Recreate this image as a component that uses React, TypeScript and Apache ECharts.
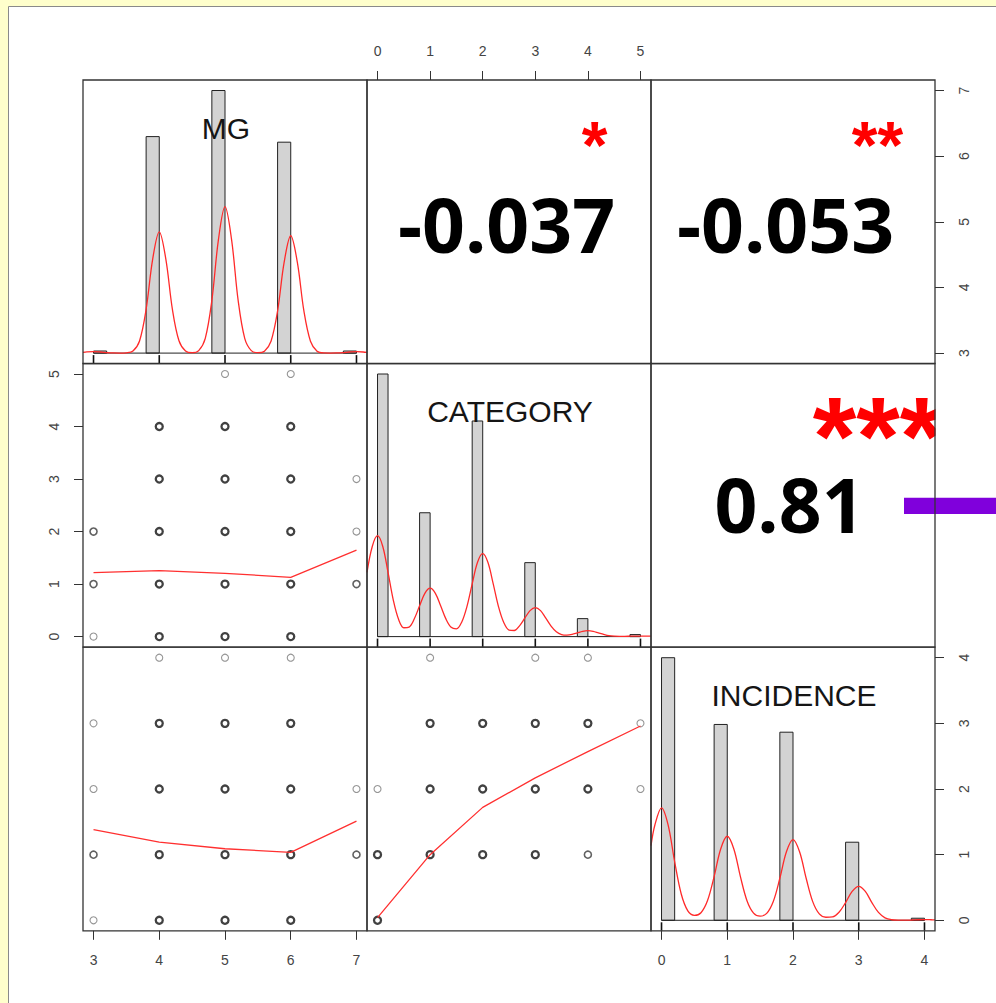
import React, { useEffect, useRef } from "react";
import * as echarts from "echarts";

// ---------- data ----------
const variableNames = ["MG", "CATEGORY", "INCIDENCE"];
const axisMin = [2.84, -0.2, -0.16];
const axisMax = [7.16, 5.2, 4.16];
const mgTicks = [3, 4, 5, 6, 7];
const categoryTicks = [0, 1, 2, 3, 4, 5];
const incidenceTicks = [0, 1, 2, 3, 4];
const tickValues = [mgTicks, categoryTicks, incidenceTicks];

// histogram bins: [from, to, density]
const mgBins = [[3.0, 3.2, 0.015], [3.8, 4.0, 1.55], [4.8, 5.0, 1.88], [5.8, 6.0, 1.51], [6.8, 7.0, 0.015]];
const categoryBins = [[0, 0.2, 1.9], [0.8, 1.0, 0.896], [1.8, 2.0, 1.56], [2.8, 3.0, 0.535], [3.8, 4.0, 0.13], [4.8, 5.0, 0.0145]];
const incidenceBins = [[0, 0.2, 1.9], [0.8, 1.0, 1.417], [1.8, 2.0, 1.361], [2.8, 3.0, 0.565], [3.8, 4.0, 0.015]];
const histRange = [[3, 7], [0, 5], [0, 4]];
const densityTop = [1.88, 1.9, 1.9];

const mgDensity = [[2.84,0.005],[2.9,0.009],[3.0,0.010],[3.1,0.008],[3.2,0.004],[3.3,0.001],[3.4,0.000],[3.5,0.002],[3.6,0.015],[3.7,0.087],[3.8,0.313],[3.9,0.673],[4.0,0.868],[4.1,0.673],[4.2,0.313],[4.3,0.088],[4.4,0.015],[4.5,0.003],[4.6,0.018],[4.7,0.106],[4.8,0.377],[4.9,0.812],[5.0,1.048],[5.1,0.812],[5.2,0.377],[5.3,0.106],[5.4,0.018],[5.5,0.003],[5.6,0.014],[5.7,0.085],[5.8,0.302],[5.9,0.651],[6.0,0.840],[6.1,0.651],[6.2,0.302],[6.3,0.085],[6.4,0.014],[6.5,0.001],[6.6,0.000],[6.7,0.001],[6.8,0.004],[6.9,0.008],[7.0,0.010],[7.1,0.008],[7.16,0.005]];
const categoryDensity = [[-0.2,0.464],[-0.1,0.652],[0,0.730],[0.1,0.652],[0.2,0.464],[0.3,0.264],[0.4,0.125],[0.5,0.064],[0.6,0.069],[0.7,0.129],[0.8,0.223],[0.9,0.313],[1.0,0.350],[1.1,0.313],[1.2,0.223],[1.3,0.128],[1.4,0.067],[1.5,0.056],[1.6,0.104],[1.7,0.217],[1.8,0.381],[1.9,0.536],[2.0,0.600],[2.1,0.536],[2.2,0.381],[2.3,0.217],[2.4,0.102],[2.5,0.047],[2.6,0.044],[2.7,0.078],[2.8,0.133],[2.9,0.188],[3.0,0.210],[3.1,0.188],[3.2,0.133],[3.3,0.076],[3.4,0.035],[3.5,0.015],[3.6,0.011],[3.7,0.016],[3.8,0.027],[3.9,0.038],[4.0,0.043],[4.1,0.038],[4.2,0.027],[4.3,0.016],[4.4,0.007],[4.5,0.003],[4.6,0.002],[4.7,0.002],[4.8,0.003],[4.9,0.004],[5.0,0.004],[5.1,0.004],[5.2,0.003]];
const incidenceDensity = [[-0.16,0.540],[-0.1,0.691],[0,0.814],[0.1,0.691],[0.2,0.423],[0.3,0.190],[0.4,0.068],[0.5,0.036],[0.6,0.055],[0.7,0.143],[0.8,0.316],[0.9,0.516],[1.0,0.608],[1.1,0.516],[1.2,0.316],[1.3,0.142],[1.4,0.052],[1.5,0.030],[1.6,0.050],[1.7,0.136],[1.8,0.304],[1.9,0.496],[2.0,0.584],[2.1,0.496],[2.2,0.304],[2.3,0.135],[2.4,0.046],[2.5,0.022],[2.6,0.024],[2.7,0.058],[2.8,0.128],[2.9,0.209],[3.0,0.246],[3.1,0.209],[3.2,0.128],[3.3,0.057],[3.4,0.018],[3.5,0.004],[3.6,0.001],[3.7,0.001],[3.8,0.002],[3.9,0.004],[4.0,0.005],[4.1,0.004],[4.16,0.003]];

const mgRug = [3, 4, 5, 6, 7];
const categoryRug = [0, 1, 2, 3, 4, 5];
const incidenceRug = [0, 1, 2, 3, 4];

// scatter points: [x, y, overplot level 1..3]
const mgCategoryPoints = [[5,5,1],[6,5,1],[4,4,3],[5,4,3],[6,4,3],[4,3,3],[5,3,3],[6,3,3],[7,3,1],[3,2,2],[4,2,3],[5,2,3],[6,2,3],[7,2,1],[3,1,2],[4,1,3],[5,1,3],[6,1,3],[7,1,2],[3,0,1],[4,0,3],[5,0,3],[6,0,3]];
const mgIncidencePoints = [[4,4,1],[5,4,1],[6,4,1],[3,3,1],[4,3,3],[5,3,3],[6,3,3],[3,2,1],[4,2,3],[5,2,3],[6,2,3],[7,2,1],[3,1,2],[4,1,3],[5,1,3],[6,1,3],[7,1,2],[3,0,1],[4,0,3],[5,0,3],[6,0,3]];
const categoryIncidencePoints = [[1,4,1],[3,4,1],[4,4,1],[1,3,3],[2,3,3],[3,3,3],[4,3,3],[5,3,1],[0,2,1],[1,2,3],[2,2,3],[3,2,3],[4,2,3],[5,2,1],[0,1,3],[1,1,3],[2,1,3],[3,1,3],[4,1,2],[0,0,3]];

const mgCategoryLowess = [[3,1.217],[4,1.255],[5,1.205],[6,1.129],[7,1.648]];
const mgIncidenceLowess = [[3,1.38],[4,1.19],[5,1.09],[6,1.035],[7,1.51]];
const categoryIncidenceLowess = [[0,0.04],[1,1.0],[2,1.72],[3,2.17],[4,2.57],[5,2.96]];

const correlationTexts = ["-0.037", "-0.053", "0.81"];
const significanceStars = ["*", "**", "***"];

// ---------- layout ----------
const PANEL_LEFT = [83, 367, 651];
const PANEL_TOP = [80, 363.5, 647.2];
const PANEL_W = 284;
const PANEL_H = 283.6;

function buildOption() {
  const grids: any[] = [];
  const xAxes: any[] = [];
  const yAxes: any[] = [];
  const series: any[] = [];

  const axisStyle = (v: number, show: boolean, position: string, rotate: number) => ({
    type: "value",
    min: axisMin[v],
    max: axisMax[v],
    show,
    position,
    axisLine: { show: false, onZero: false },
    splitLine: { show: false },
    axisTick: {
      show: true,
      inside: false,
      length: 9,
      lineStyle: { color: "#333", width: 1 },
      customValues: tickValues[v],
    },
    axisLabel: {
      show: true,
      customValues: tickValues[v],
      color: "#444",
      fontSize: 14,
      fontFamily: "Liberation Sans",
      margin: 22,
      rotate,
    },
  });

  for (let r = 0; r < 3; r++) {
    for (let c = 0; c < 3; c++) {
      const g = r * 3 + c;
      grids.push({ left: PANEL_LEFT[c], top: PANEL_TOP[r], width: PANEL_W, height: PANEL_H, show: false });
      let showX = false;
      let xPos = "bottom";
      if (g === 1) { showX = true; xPos = "top"; }
      if (g === 6 || g === 8) { showX = true; xPos = "bottom"; }
      xAxes.push({ ...axisStyle(c, showX, xPos, 0), gridIndex: g });
      if (r === c) {
        yAxes.push({
          type: "value", gridIndex: g, show: false,
          min: -0.04 * densityTop[r], max: 1.04 * densityTop[r],
          axisLine: { onZero: false },
          splitLine: { show: false },
        });
      } else {
        let showY = false;
        let yPos = "left";
        if (g === 2) { showY = true; yPos = "right"; }
        if (g === 3) { showY = true; yPos = "left"; }
        yAxes.push({ ...axisStyle(r, showY, yPos, 90), gridIndex: g });
      }
    }
  }
  // extra right axis on row 3 (INCIDENCE scale)
  yAxes.push({ ...axisStyle(2, true, "right", 90), gridIndex: 8 });

  const binsList = [mgBins, categoryBins, incidenceBins];
  const densList = [mgDensity, categoryDensity, incidenceDensity];
  const rugList = [mgRug, categoryRug, incidenceRug];

  for (let d = 0; d < 3; d++) {
    const g = d * 4;
    const yMin = -0.04 * densityTop[d];
    series.push({
      type: "custom",
      xAxisIndex: g,
      yAxisIndex: g,
      clip: false,
      z: 2,
      data: binsList[d],
      encode: { x: [0, 1], y: 2 },
      renderItem: (params: any, api: any) => {
        const p0 = api.coord([api.value(0), api.value(2)]);
        const p1 = api.coord([api.value(1), 0]);
        return {
          type: "rect",
          shape: { x: p0[0], y: p0[1], width: p1[0] - p0[0], height: p1[1] - p0[1] },
          style: { fill: "#D3D3D3", stroke: "#222", lineWidth: 1 },
        };
      },
    });
    series.push({
      type: "line",
      xAxisIndex: g,
      yAxisIndex: g,
      data: [[histRange[d][0], 0], [histRange[d][1], 0]],
      symbol: "none",
      lineStyle: { color: "#222", width: 1 },
      z: 3,
    });
    series.push({
      type: "line",
      xAxisIndex: g,
      yAxisIndex: g,
      data: densList[d],
      smooth: 0.35,
      symbol: "none",
      clip: true,
      lineStyle: { color: "#FF2a2a", width: 1.3 },
      z: 4,
    });
    series.push({
      type: "custom",
      xAxisIndex: g,
      yAxisIndex: g,
      clip: false,
      z: 5,
      data: rugList[d].map((v) => [v, yMin]),
      renderItem: (params: any, api: any) => {
        const p = api.coord([api.value(0), api.value(1)]);
        return {
          type: "line",
          shape: { x1: p[0], y1: p[1], x2: p[0], y2: p[1] - 8.5 },
          style: { stroke: "#111", lineWidth: 1.6 },
        };
      },
    });
  }

  const scatterPanels = [
    { g: 3, pts: mgCategoryPoints, low: mgCategoryLowess },
    { g: 6, pts: mgIncidencePoints, low: mgIncidenceLowess },
    { g: 7, pts: categoryIncidencePoints, low: categoryIncidenceLowess },
  ];
  const levelStyle: any = {
    1: { borderColor: "#7a7a7a", borderWidth: 1.1 },
    2: { borderColor: "#3a3a3a", borderWidth: 1.6 },
    3: { borderColor: "#111", borderWidth: 2.3 },
  };
  scatterPanels.forEach((p) => {
    [1, 2, 3].forEach((lvl) => {
      series.push({
        type: "scatter",
        xAxisIndex: p.g,
        yAxisIndex: p.g,
        symbol: "circle",
        symbolSize: 7,
        data: p.pts.filter((q) => q[2] === lvl).map((q) => [q[0], q[1]]),
        itemStyle: { color: "rgba(0,0,0,0)", ...levelStyle[lvl] },
        z: 3,
      });
    });
    series.push({
      type: "line",
      xAxisIndex: p.g,
      yAxisIndex: p.g,
      data: p.low,
      symbol: "none",
      lineStyle: { color: "#FF3030", width: 1.3 },
      z: 4,
    });
  });

  const graphics: any[] = [];
  graphics.push({ type: "rect", z: -10, shape: { x: 0, y: 0, width: 996, height: 1003 }, style: { fill: "#FFFFCC" } });
  graphics.push({ type: "rect", z: -9, shape: { x: 8.5, y: 6.5, width: 1000, height: 1010 }, style: { fill: "#FFFFFF", stroke: "#8a8a8a", lineWidth: 1 } });

  // diagonal labels
  for (let d = 0; d < 3; d++) {
    graphics.push({
      type: "text", z: 10,
      x: PANEL_LEFT[d] + PANEL_W / 2 + 1,
      y: PANEL_TOP[d] + 48,
      style: {
        text: variableNames[d], fill: "#151515", font: "30px 'Liberation Sans'",
        align: "center", verticalAlign: "middle",
      },
    });
  }

  // correlations (upper panels)
  const corrPos = [[506.5, 224], [785.5, 224], [789.5, 504]];
  const starPos = [[594.5, 145, 66, 24], [877.5, 145, 66, 24], [878, 436, 112, 40]];
  for (let k = 0; k < 3; k++) {
    graphics.push({
      type: "text", z: 10, x: corrPos[k][0], y: corrPos[k][1],
      style: {
        text: correlationTexts[k], fill: "#000",
        font: "bold 75px 'Open Sans'", lineHeight: 56,
        align: "center", verticalAlign: "middle",
      },
    });
    graphics.push({
      type: "text", z: 10, x: starPos[k][0], y: starPos[k][1],
      style: {
        text: significanceStars[k], fill: "#FF0000",
        font: `bold ${starPos[k][2]}px 'Liberation Sans'`, lineHeight: starPos[k][3],
        align: "center", verticalAlign: "middle",
      },
    });
  }
  // clip stars at panel edge
  graphics.push({ type: "rect", z: 15, shape: { x: 935.5, y: 380, width: 70, height: 80 }, style: { fill: "#FFFFFF" } });
  // purple marker bar
  graphics.push({ type: "rect", z: 16, shape: { x: 904, y: 497.7, width: 92, height: 16.3 }, style: { fill: "#8000DC" } });

  // panel borders
  for (let r = 0; r < 3; r++) {
    for (let c = 0; c < 3; c++) {
      graphics.push({
        type: "rect", z: 20,
        shape: { x: PANEL_LEFT[c], y: PANEL_TOP[r], width: PANEL_W, height: PANEL_H },
        style: { fill: "none", stroke: "#333", lineWidth: 1.3 },
      });
    }
  }

  return {
    animation: false,
    backgroundColor: "transparent",
    grid: grids,
    xAxis: xAxes,
    yAxis: yAxes,
    series,
    graphic: { elements: graphics },
  };
}

export default function App() {
  const ref = useRef<HTMLDivElement>(null);
  useEffect(() => {
    const chart = echarts.init(ref.current as HTMLDivElement, null, { renderer: "svg" });
    chart.setOption(buildOption() as any);
    return () => chart.dispose();
  }, []);
  return (
    <div
      ref={ref}
      style={{ position: "absolute", left: 0, top: 0, width: 996, height: 1003 }}
    />
  );
}
